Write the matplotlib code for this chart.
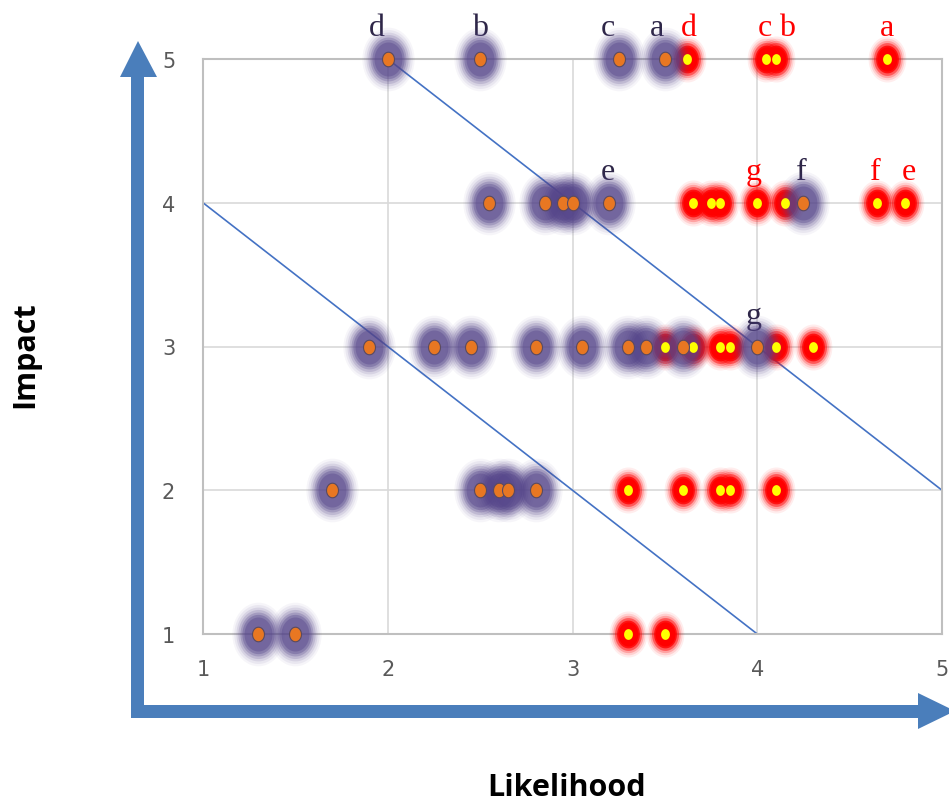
import numpy as np
import matplotlib.pyplot as plt
from matplotlib.path import Path
from matplotlib.patches import Polygon

# purple (current) risks
purple_x = [2.0, 2.5, 3.25, 3.5,
            2.55, 2.85, 2.95, 3.0, 3.2, 4.25,
            1.9, 2.25, 2.45, 2.8, 3.05, 3.3, 3.4, 3.6, 4.0,
            1.7, 2.5, 2.6, 2.65, 2.8,
            1.3, 1.5]
purple_y = [5, 5, 5, 5,
            4, 4, 4, 4, 4, 4,
            3, 3, 3, 3, 3, 3, 3, 3, 3,
            2, 2, 2, 2, 2,
            1, 1]

# red (future) risks
red_x = [3.62, 4.05, 4.1, 4.7,
         3.65, 3.75, 3.8, 4.0, 4.15, 4.65, 4.8,
         3.5, 3.65, 3.8, 3.85, 4.1, 4.3,
         3.3, 3.6, 3.8, 3.85, 4.1,
         3.3, 3.5]
red_y = [5, 5, 5, 5,
         4, 4, 4, 4, 4, 4, 4,
         3, 3, 3, 3, 3, 3,
         2, 2, 2, 2, 2,
         1, 1]

purple_labels = ['d', 'b', 'c', 'a', 'e', 'f', 'g']
purple_lx = [1.94, 2.5, 3.19, 3.46, 3.19, 4.24, 3.98]
purple_ly = [5, 5, 5, 5, 4, 4, 3]

red_labels = ['d', 'c', 'b', 'a', 'g', 'f', 'e']
red_lx = [3.63, 4.04, 4.16, 4.7, 3.98, 4.64, 4.82]
red_ly = [5, 5, 5, 5, 4, 4, 4]

# boundary lines
line1_x, line1_y = [1, 4], [4, 1]
line2_x, line2_y = [2, 5], [5, 2]

ticks = [1, 2, 3, 4, 5]

t = np.linspace(0, 2 * np.pi, 60)
ell = Path(np.column_stack([0.82 * np.cos(t), np.sin(t)]), closed=True)

fig = plt.figure(figsize=(9.49, 8.04), dpi=100)

# big arrows in pixel coordinates
bg = fig.add_axes([0, 0, 1, 1])
bg.set_xlim(0, 949)
bg.set_ylim(804, 0)
bg.axis('off')
arrow_c = '#4a7ebb'
bg.add_patch(Polygon([(131, 719), (131, 78), (120, 78), (138, 42), (157, 78),
                      (144, 78), (144, 706), (918, 706), (918, 694), (955, 712),
                      (918, 730), (918, 719)], closed=True, color=arrow_c, lw=0))
bg.text(25, 355, 'Impact', rotation=90, ha='center', va='center',
        fontsize=22, fontweight='bold', family='Open Sans')
bg.text(567, 788, 'Likelihood', ha='center', va='center',
        fontsize=22, fontweight='bold', family='Open Sans')

ax = fig.add_axes([203 / 949, 1 - 635 / 804, 739 / 949, 575 / 804])
ax.set_xlim(1, 5)
ax.set_ylim(1, 5)
ax.set_xticks(ticks)
ax.set_yticks(ticks)
ax.grid(color='#d9d9d9', lw=1.2)
ax.set_axisbelow(True)
for s in ax.spines.values():
    s.set_color('#bfbfbf')
    s.set_linewidth(1.5)
ax.tick_params(length=0, labelsize=15, labelcolor='#595959', pad=20)
ax.tick_params(axis='x', pad=18)
ax.patch.set_alpha(0)

ax.plot(line1_x, line1_y, color='#4472c4', lw=1.2, zorder=2)
ax.plot(line2_x, line2_y, color='#4472c4', lw=1.2, zorder=2)

# red halos
for size, a in [(1100, 0.07), (900, 0.12), (720, 0.22), (560, 0.45), (400, 0.8), (300, 1.0)]:
    ax.scatter(red_x, red_y, s=size, marker=ell, color='#ff0000', alpha=a,
               lw=0, clip_on=False, zorder=3)
# purple halos
for size, a in [(2100, 0.05), (1800, 0.08), (1500, 0.12), (1250, 0.18),
                (1000, 0.26), (800, 0.35), (600, 0.4)]:
    ax.scatter(purple_x, purple_y, s=size, marker=ell, color='#55458a', alpha=a,
               lw=0, clip_on=False, zorder=4)

ax.scatter(red_x, red_y, s=60, marker=ell, color='#ffff00', lw=0,
           clip_on=False, zorder=5)
ax.scatter(purple_x, purple_y, s=110, marker=ell, color='#e87722',
           edgecolor='#5a4a60', lw=0.8, clip_on=False, zorder=6)

for lab, x, y in zip(purple_labels, purple_lx, purple_ly):
    ax.annotate(lab, (x, y), xytext=(0, 12), textcoords='offset points',
                ha='center', va='bottom', fontsize=23, color='#2e2648',
                family='Liberation Serif', annotation_clip=False)
for lab, x, y in zip(red_labels, red_lx, red_ly):
    ax.annotate(lab, (x, y), xytext=(0, 12), textcoords='offset points',
                ha='center', va='bottom', fontsize=23, color='#ff0000',
                family='Liberation Serif', annotation_clip=False)

fig.savefig('out.png', dpi=100)
